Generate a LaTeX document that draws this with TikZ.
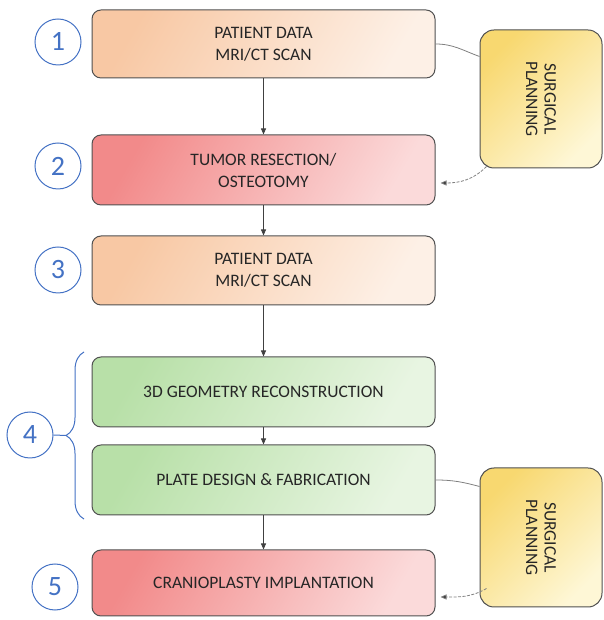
\documentclass[tikz,border=0pt]{standalone}
\usepackage{fontspec}
\setmainfont{Carlito}
\usetikzlibrary{arrows.meta,calc,decorations.pathreplacing}
\definecolor{numblue}{HTML}{4472C4}
\definecolor{peachA}{HTML}{F8C8A4}
\definecolor{peachB}{HTML}{FDF0E6}
\definecolor{redA}{HTML}{F28A8A}
\definecolor{redB}{HTML}{FBDADA}
\definecolor{greenA}{HTML}{B8E0A8}
\definecolor{greenB}{HTML}{E8F5E2}
\definecolor{yelA}{HTML}{F8D870}
\definecolor{yelB}{HTML}{FEF7D6}
\definecolor{edge}{HTML}{505050}
\begin{document}
\begin{tikzpicture}[x=1pt,y=1pt,
  box/.style={draw=edge, line width=1pt, rounded corners=9pt, minimum width=343pt,
    align=center, font=\fontsize{17.5}{22}\selectfont, text=black!85},
  peach/.style={top color=peachA, bottom color=peachB, shading angle=60},
  redbox/.style={top color=redA, bottom color=redB, shading angle=60},
  greenbox/.style={top color=greenA, bottom color=greenB, shading angle=60},
  spbox/.style={draw=edge, line width=1pt, rounded corners=14pt, minimum width=122pt,
    minimum height=138pt, top color=yelA, bottom color=yelB, shading angle=45},
  sptext/.style={rotate=-90, align=center, font=\fontsize{17.5}{18.5}\selectfont, text=black!85},
  num/.style={circle, draw=numblue, line width=1pt, minimum size=46pt, inner sep=0pt,
    font=\fontsize{28}{28}\selectfont, text=numblue},
  arr/.style={draw=black!75, line width=0.8pt, -{Triangle[length=6pt,width=5pt]}},
  conn/.style={draw=black!50, line width=0.8pt},
  dconn/.style={draw=black!50, line width=0.8pt, dashed, dash pattern=on 3pt off 1.5pt,
    -{Triangle[length=6pt,width=5pt,fill=black!80]}}
]
\useasboundingbox (0,0) rectangle (603,620);

% main boxes
\node[box, peach, minimum height=68pt] (b1) at (263.5,576) {PATIENT DATA\\MRI/CT SCAN};
\node[box, redbox, minimum height=70pt] (b2) at (263.5,450) {TUMOR RESECTION/\\OSTEOTOMY};
\node[box, peach, minimum height=69pt] (b3) at (263.5,349.5) {PATIENT DATA\\MRI/CT SCAN};
\node[box, greenbox, minimum height=70pt] (b4a) at (263.5,228) {3D GEOMETRY RECONSTRUCTION};
\node[box, greenbox, minimum height=70pt] (b4b) at (263.5,140) {PLATE DESIGN \& FABRICATION};
\node[box, redbox, minimum height=66pt] (b5) at (263.5,37) {CRANIOPLASTY IMPLANTATION};

% surgical planning boxes
\node[spbox] (sp1) at (541,521) {};
\node[sptext] (sp1t) at (sp1.center) {SURGICAL\\PLANNING};
\node[spbox, minimum height=139pt] (sp2) at (541,82.5) {};
\node[sptext] (sp2t) at (sp2.center) {SURGICAL\\PLANNING};

% numbers
\node[num] (n1) at (58,578) {1};
\node[num] (n2) at (58,454) {2};
\node[num] (n3) at (58,350) {3};
\node[num] (n4) at (30,185) {4};
\node[num] (n5) at (55,33) {5};

% vertical arrows
\draw[arr] (b1) -- (b2);
\draw[arr] (b2) -- (b3);
\draw[arr] (b3) -- (b4a);
\draw[arr] (b4a) -- (b4b);
\draw[arr] (b4b) -- (b5);

% surgical planning connectors
\coordinate (s1in) at ($(sp1.north west)+(0,-27)$);
\coordinate (s1out) at ($(sp1.south west)+(7,2)$);
\coordinate (e2) at ($(b2.east)+(5,-13)$);
\draw[conn] (b1.east) to[out=0,in=160] (s1in);
\draw[dconn] (s1out) to[out=-135,in=0] (e2);

\coordinate (s2in) at ($(sp2.north west)+(0,-19)$);
\coordinate (s2out) at ($(sp2.south west)+(7,19)$);
\coordinate (e5) at ($(b5.east)+(5,-14)$);
\draw[conn] (b4b.east) to[out=0,in=165] (s2in);
\draw[dconn] (s2out) to[out=-150,in=0] (e5);

% brace for step 4
\coordinate (bt) at (66,184.5);
\draw[draw=numblue, line width=1pt, decorate, decoration={brace, amplitude=18pt, aspect=0.5}]
  (84,101) -- (84,268);
\draw[draw=numblue, line width=1pt] (n4.east) -- (bt);
\end{tikzpicture}
\end{document}
